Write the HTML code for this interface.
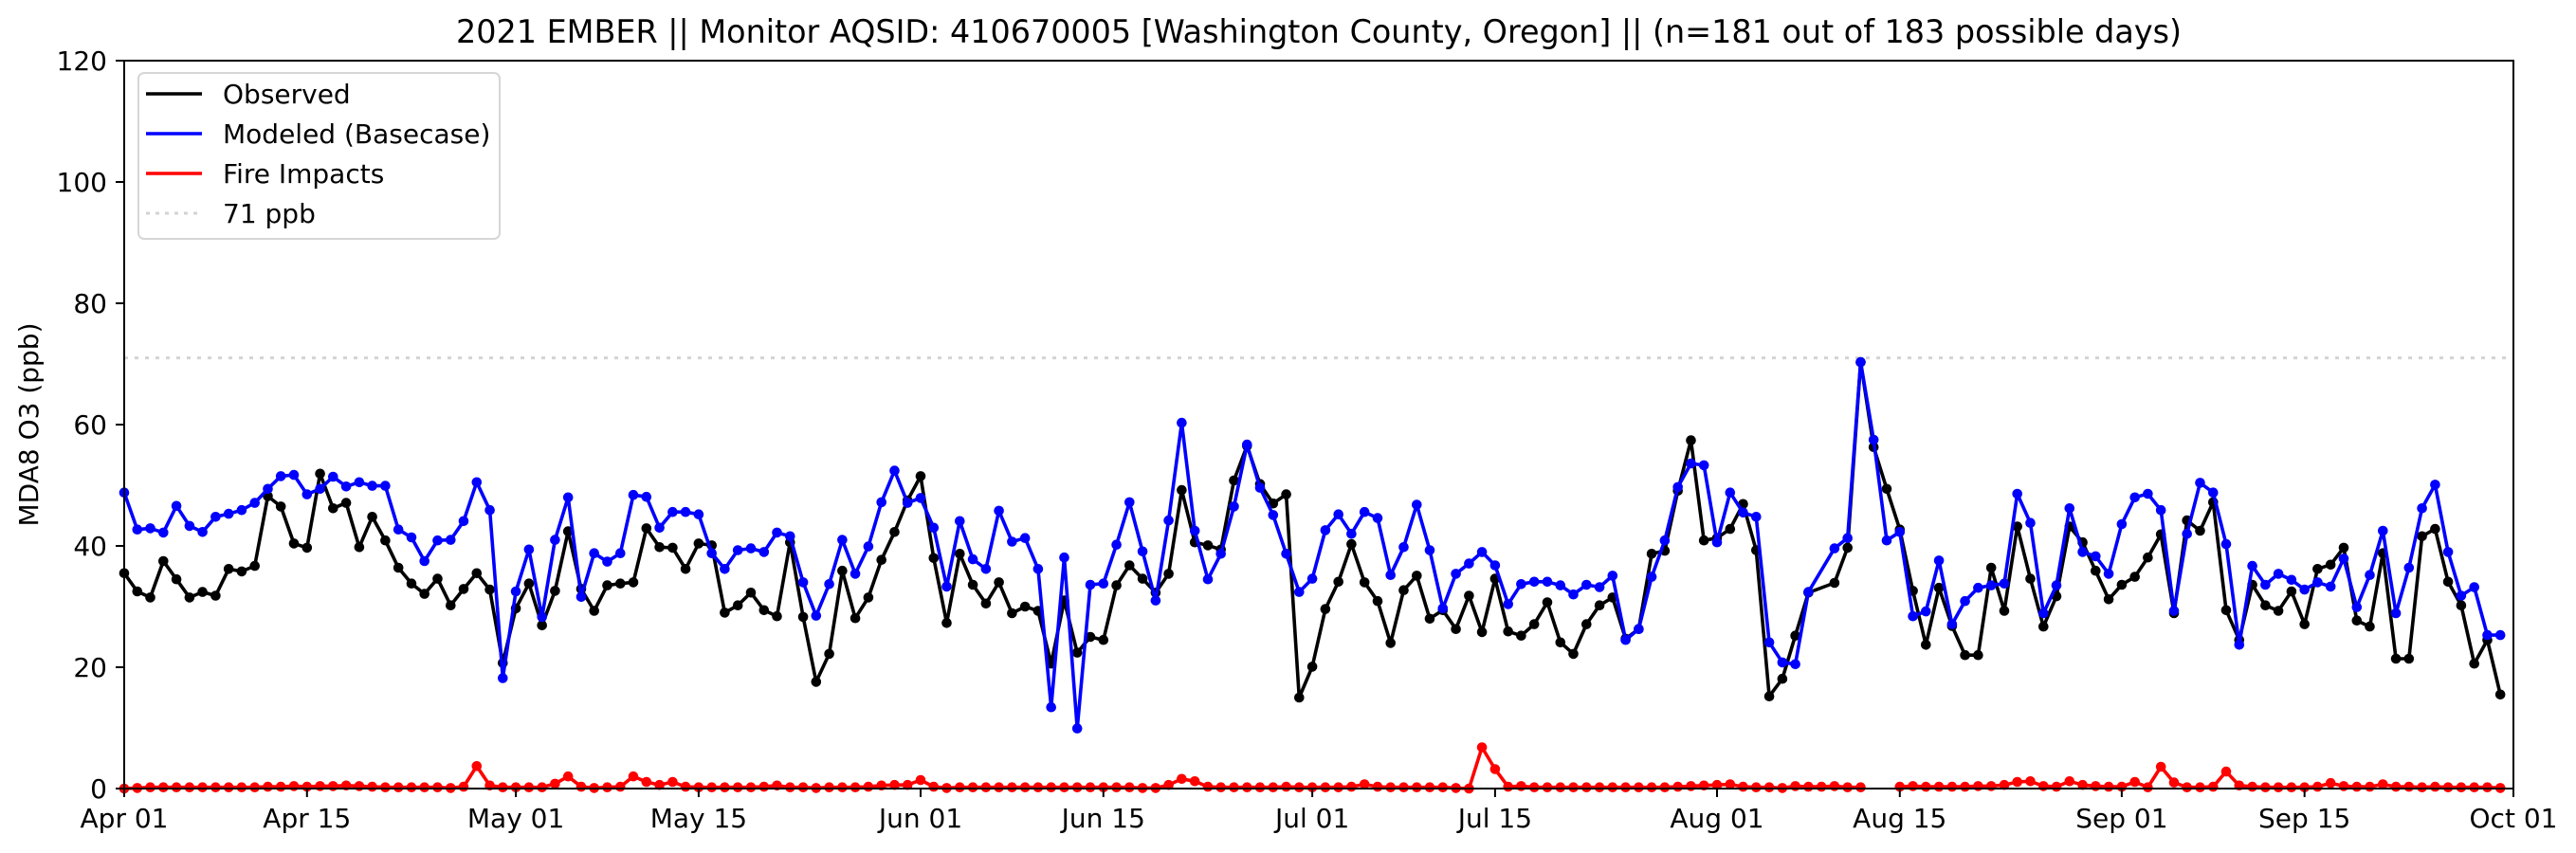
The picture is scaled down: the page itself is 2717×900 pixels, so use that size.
<!DOCTYPE html>
<html><head><meta charset="utf-8"><style>
html,body{margin:0;padding:0;background:#fff;}
svg{display:block;font-family:"DejaVu Sans","Liberation Sans",sans-serif;}
</style></head><body>
<svg id="chart" width="2717" height="900" viewBox="0 0 2717 900" xmlns="http://www.w3.org/2000/svg">
<rect x="0" y="0" width="2717" height="900" fill="#fff"/>
<text x="1391" y="45" font-size="34" text-anchor="middle" textLength="1820" lengthAdjust="spacingAndGlyphs">2021 EMBER || Monitor AQSID: 410670005 [Washington County, Oregon] || (n=181 out of 183 possible days)</text>
<text x="0" y="0" font-size="28" text-anchor="middle" transform="translate(40,448) rotate(-90)">MDA8 O3 (ppb)</text>
<g id="grid"></g>
<g id="series"></g>
<g id="axes"></g>
<g id="legend">
<rect x="146" y="77" width="381" height="175" rx="6" fill="#fff" fill-opacity="0.8" stroke="#d6d6d6" stroke-width="2"/>
<g><line x1="154" y1="99" x2="213" y2="99" stroke="#000" stroke-width="3.5"/><text x="235" y="109" font-size="28">Observed</text></g>
<g><line x1="154" y1="141" x2="213" y2="141" stroke="#0000ff" stroke-width="3.5"/><text x="235" y="151" font-size="28">Modeled (Basecase)</text></g>
<g><line x1="154" y1="183" x2="213" y2="183" stroke="#ff0000" stroke-width="3.5"/><text x="235" y="193" font-size="28">Fire Impacts</text></g>
<g><line x1="154" y1="225" x2="213" y2="225" stroke="#d3d3d3" stroke-width="3" stroke-dasharray="4,6"/><text x="235" y="235" font-size="28">71 ppb</text></g>
</g>
</svg>
<script>
const observed = [
35.5,32.5,31.5,37.5,34.5,31.5,32.4,31.8,36.2,35.8,36.7,48.2,46.5,40.4,39.7,51.9,46.2,47.1,39.8,44.8,40.9,36.4,33.8,32.1,34.6,30.2,32.9,35.5,32.8,20.7,
29.7,33.8,26.9,32.6,42.4,32.9,29.3,33.5,33.8,34.0,42.9,39.8,39.7,36.2,40.4,40.1,29.0,30.2,32.3,29.4,28.4,40.6,28.3,17.6,22.2,35.9,28.1,31.5,37.7,42.3,47.5,
51.5,38.0,27.3,38.7,33.6,30.5,34.0,28.9,30.0,29.3,20.6,31.0,22.4,25.0,24.5,33.5,36.8,34.6,32.3,35.4,49.2,40.6,40.1,39.4,50.8,56.5,50.2,47.0,48.5,15.0,
20.1,29.6,34.1,40.3,34.0,30.9,24.0,32.7,35.1,28.0,29.4,26.3,31.8,25.8,34.6,25.9,25.2,27.1,30.7,24.1,22.2,27.1,30.2,31.5,24.7,26.3,38.7,39.2,49.1,57.4,40.9,
41.3,42.8,46.9,39.3,15.2,18.1,25.2,32.3,null,33.9,39.7,70.3,56.3,49.4,42.7,32.6,23.7,33.1,26.8,22.0,22.0,36.4,29.3,43.2,34.6,26.7,31.7,43.2,40.6,35.9,31.2,
33.6,34.9,38.1,41.9,28.9,44.2,42.5,47.2,29.4,24.5,33.6,30.2,29.3,32.5,27.1,36.2,36.9,39.7,27.7,26.7,38.8,21.4,21.4,41.6,42.8,34.1,30.2,20.6,24.5,15.5];
const modeled = [
48.8,42.7,42.9,42.2,46.6,43.3,42.3,44.8,45.3,45.9,47.1,49.4,51.5,51.7,48.5,49.4,51.4,49.8,50.5,49.9,49.9,42.7,41.4,37.5,40.9,41.0,44.1,50.5,45.9,18.2,
32.5,39.4,28.3,41.0,48.0,31.6,38.8,37.4,38.8,48.4,48.1,43.0,45.6,45.6,45.2,38.8,36.2,39.3,39.6,39.0,42.2,41.6,34.0,28.5,33.7,41.0,35.4,39.9,47.2,52.4,47.1,
47.9,43.0,33.3,44.1,37.8,36.2,45.8,40.7,41.3,36.2,13.4,38.1,9.9,33.6,33.8,40.2,47.2,39.1,31.0,44.2,60.3,42.5,34.5,38.7,46.5,56.7,49.6,45.1,38.7,32.4,
34.6,42.6,45.2,42.0,45.6,44.6,35.2,39.8,46.8,39.3,29.7,35.4,37.1,39.0,36.8,30.4,33.7,34.1,34.1,33.5,32.0,33.6,33.2,35.1,24.5,26.3,34.9,40.9,49.7,53.6,53.3,
40.6,48.8,45.5,44.8,24.1,20.8,20.5,32.4,null,39.6,41.3,70.3,57.5,40.9,42.3,28.4,29.2,37.6,27.1,30.9,33.1,33.5,33.8,48.6,43.8,28.9,33.5,46.2,39.0,38.3,35.4,
43.6,48.0,48.6,45.9,29.3,42.0,50.4,48.8,40.3,23.7,36.7,33.6,35.4,34.4,32.8,34.0,33.3,37.9,29.9,35.2,42.5,28.9,36.4,46.2,50.1,39.0,31.8,33.2,25.3,25.3];
const fire = [
0.0,0.1,0.2,0.2,0.2,0.2,0.2,0.2,0.2,0.2,0.2,0.3,0.3,0.4,0.3,0.4,0.4,0.5,0.4,0.3,0.2,0.2,0.2,0.2,0.2,0.1,0.3,3.7,0.5,0.2,
0.2,0.2,0.2,0.8,2.0,0.3,0.1,0.2,0.3,2.0,1.1,0.6,1.1,0.3,0.2,0.2,0.2,0.2,0.2,0.3,0.5,0.2,0.2,0.1,0.2,0.2,0.2,0.3,0.5,0.6,0.6,
1.4,0.3,0.1,0.2,0.2,0.2,0.2,0.2,0.2,0.2,0.2,0.2,0.2,0.2,0.2,0.2,0.2,0.1,0.1,0.6,1.6,1.2,0.3,0.2,0.2,0.2,0.2,0.2,0.3,0.2,
0.2,0.2,0.2,0.3,0.7,0.3,0.2,0.2,0.2,0.2,0.2,0.1,0.0,6.8,3.2,0.3,0.4,0.2,0.2,0.2,0.2,0.2,0.2,0.2,0.2,0.2,0.2,0.2,0.3,0.4,0.5,
0.6,0.7,0.3,0.2,0.2,0.1,0.4,0.3,0.3,0.4,0.2,0.2,null,null,0.3,0.4,0.3,0.3,0.3,0.3,0.4,0.4,0.6,1.1,1.2,0.4,0.3,1.2,0.6,0.4,0.3,
0.3,1.1,0.2,3.6,1.0,0.2,0.2,0.3,2.8,0.5,0.3,0.2,0.2,0.2,0.2,0.3,0.9,0.4,0.3,0.3,0.7,0.3,0.3,0.2,0.3,0.2,0.2,0.2,0.2,0.1];
const yTicks = [0,20,40,60,80,100,120];
const xTickDays = [0,14,30,44,61,75,91,105,122,136,153,167,183];
const xTickLabels = ["Apr 01","Apr 15","May 01","May 15","Jun 01","Jun 15","Jul 01","Jul 15","Aug 01","Aug 15","Sep 01","Sep 15","Oct 01"];
const threshold = 71;

const NS = "http://www.w3.org/2000/svg";
const L = 131, R = 2651, T = 64, B = 832, NDAYS = 183, YMAX = 120;
function X(d){ return L + d * (R - L) / NDAYS; }
function Y(v){ return B - v * (B - T) / YMAX; }
function mk(tag, attrs, parent){ const e = document.createElementNS(NS, tag); for (const k in attrs) e.setAttribute(k, attrs[k]); parent.appendChild(e); return e; }

const grid = document.getElementById('grid');
const th = mk('line', {x1:L, x2:R, y1:Y(threshold), y2:Y(threshold), stroke:'#d3d3d3', 'stroke-width':3, 'stroke-dasharray':'4,7'}, grid);



const series = document.getElementById('series');
function drawSeries(vals, color, name, breakOnNull){
  const g = mk('g', {}, series);
  
  
  let segs = [], cur = [];
  vals.forEach((v, i) => {
    if (v === null) { if (breakOnNull && cur.length) { segs.push(cur); cur = []; } return; }
    cur.push([X(i), Y(v)]);
  });
  if (cur.length) segs.push(cur);
  segs.forEach(s => {
    const p = mk('polyline', {points: s.map(q => q[0].toFixed(1) + ',' + q[1].toFixed(1)).join(' '), fill:'none', stroke:color, 'stroke-width':3.6, 'stroke-linejoin':'round'}, g);
    
    
  });
  vals.forEach((v, i) => {
    if (v === null) return;
    const c = mk('circle', {cx:X(i).toFixed(1), cy:Y(v).toFixed(1), r:5.3, fill:color}, g);
    
    
  });
}
drawSeries(observed, '#000000', 'observed', false);
drawSeries(modeled, '#0000ff', 'modeled', false);
drawSeries(fire, '#ff0000', 'fire-impacts', true);

const axes = document.getElementById('axes');
const frame = mk('rect', {x:L, y:T, width:R-L, height:B-T, fill:'none', stroke:'#000', 'stroke-width':2}, axes);


yTicks.forEach(v => {
  const t = mk('line', {x1:L-9, x2:L, y1:Y(v), y2:Y(v), stroke:'#000', 'stroke-width':2}, axes);
  
  
  const tx = mk('text', {x:L-18, y:Y(v)+10, 'font-size':28, 'text-anchor':'end'}, axes);
  tx.textContent = v;
  
  
});
xTickDays.forEach((d, i) => {
  const t = mk('line', {x1:X(d), x2:X(d), y1:B, y2:B+9, stroke:'#000', 'stroke-width':2}, axes);
  
  
  const tx = mk('text', {x:X(d), y:B+41, 'font-size':28, 'text-anchor':'middle'}, axes);
  tx.textContent = xTickLabels[i];
  
  
});
</script>
</body></html>
